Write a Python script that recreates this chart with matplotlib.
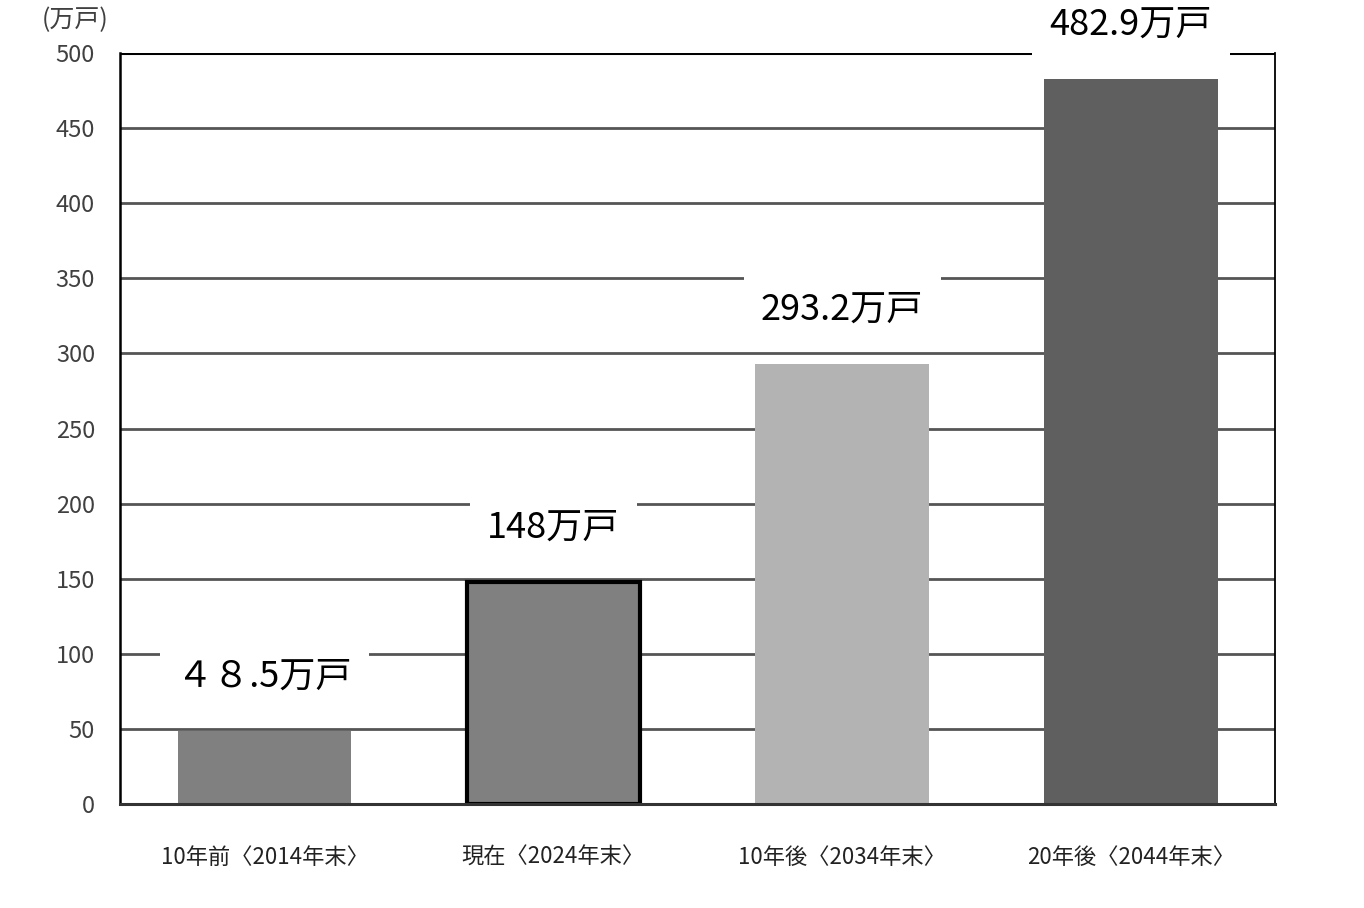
import matplotlib
matplotlib.use("Agg")
import matplotlib.pyplot as plt

plt.rcParams['font.family'] = ['Noto Sans CJK JP', 'DejaVu Sans']

# data
categories = ['10年前〈2014年末〉', '現在〈2024年末〉', '10年後〈2034年末〉', '20年後〈2044年末〉']
values = [48.5, 148, 293.2, 482.9]
value_labels = ['４８.5万戸', '148万戸', '293.2万戸', '482.9万戸']
bar_colors = ['#808080', '#808080', '#b3b3b3', '#5f5f5f']
y_ticks = [0, 50, 100, 150, 200, 250, 300, 350, 400, 450, 500]

fig = plt.figure(figsize=(13.64, 9.08), dpi=100)
ax = fig.add_axes([0.088, 0.1145, 0.847, 0.827])

x = range(len(categories))
bars = ax.bar(x, values, width=0.6, color=bar_colors, zorder=3)
bars[1].set_edgecolor('black')
bars[1].set_linewidth(3)

ax.set_xlim(-0.5, 3.5)
ax.set_ylim(0, 500)
ax.set_yticks(y_ticks)
ax.set_xticks(list(x))
ax.set_xticklabels(categories, fontsize=16, color='#222222')
ax.tick_params(axis='y', length=0, pad=18, labelsize=17, labelcolor='#404040')
ax.tick_params(axis='x', length=0, pad=30)

# gridlines
for t in y_ticks[1:-1]:
    ax.axhline(t, color='#555555', lw=2.0, zorder=1)
ax.axhline(500, color='black', lw=2.2, zorder=1)

for side in ['left', 'right', 'bottom', 'top']:
    ax.spines[side].set_color('black')
ax.spines['left'].set_linewidth(1.8)
ax.spines['right'].set_linewidth(1.3)
ax.spines['bottom'].set_linewidth(2.2)
ax.spines['bottom'].set_color('#333333')
ax.spines['top'].set_visible(False)
for s in ax.spines.values():
    s.set_zorder(4)

# value labels with white background
for i, (v, lab) in enumerate(zip(values, value_labels)):
    ax.text(i, v + 36, lab, ha='center', va='center', fontsize=26, color='black',
            zorder=5, clip_on=False,
            bbox=dict(boxstyle='square,pad=0.48', facecolor='white', edgecolor='none'))

fig.text(0.055, 0.978, '(万戸)', ha='center', va='center', fontsize=18, color='#404040')

fig.savefig('out.png', dpi=100)
